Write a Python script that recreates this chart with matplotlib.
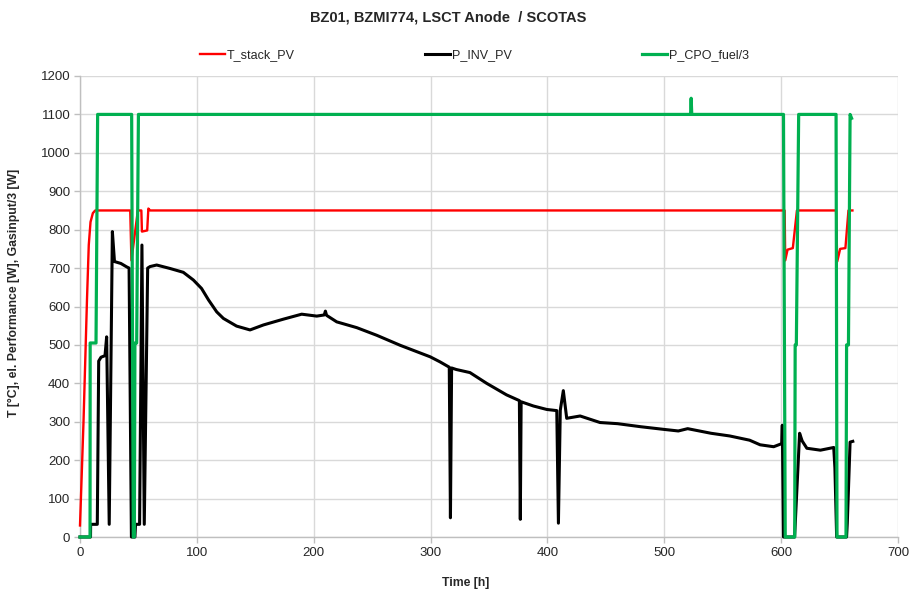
import matplotlib
matplotlib.use('Agg')
import matplotlib.pyplot as plt

# Excel-style palette
RED = '#FF0000'
BLACK = '#000000'
GREEN = '#00B050'
GRID = '#D9D9D9'
AXIS = '#BFBFBF'
TXT = '#262626'

plt.rcParams.update({
    'font.family': ['Liberation Sans', 'DejaVu Sans'],
    'text.color': TXT,
    'xtick.color': AXIS,
    'ytick.color': AXIS,
    'xtick.labelcolor': TXT,
    'ytick.labelcolor': TXT,
})

# T_stack_PV [degC]
stack_h = [0, 3, 6, 7.5, 9, 11, 13, 43, 44, 49.5, 52.5, 53, 57.5, 58.5, 60,
           603, 603.5, 605.5, 610, 613.5, 647, 648, 650.5, 655, 657.6, 661]
stack_v = [30, 300, 620, 760, 820, 843, 850, 850, 720, 850, 850, 795, 798, 855, 850,
           850, 720, 748, 752, 850, 850, 717, 750, 752, 850, 850]

# P_INV_PV [W]
inv_h = [0, 9, 9.1, 14.8, 16, 18, 21.4, 22.8, 25, 27.7, 29.5, 35, 40, 42, 44, 47,
         47.5, 51, 53, 55, 57.9, 60, 65.6, 77, 88.4, 97, 104, 110, 117, 122.7, 134,
         145.5, 157, 174, 189.7, 202.6, 209, 210, 211, 219.7, 236.8, 254, 274,
         299.7, 308, 316, 317, 318, 322, 333.7, 348, 365, 376, 376.8, 377.5, 388,
         399.4, 408, 409.4, 411, 413.6, 416.5, 428, 445, 460, 480, 500, 512, 520,
         540, 556, 573, 582, 593.6, 600.5, 601, 602, 611.5, 612, 615.8, 618, 622,
         633.6, 645, 646, 647.5, 656, 656.6, 659, 661.3]
inv_v = [0, 0, 33, 33, 458, 468, 472, 521, 33, 795, 717, 712, 703, 700, 0, 0,
         33, 33, 760, 33, 700, 704, 708, 699, 689, 669, 647, 617, 586, 569, 549,
         539, 552, 567, 580, 575, 578, 588, 577, 560, 545, 525, 499,
         469, 456, 442, 50, 440, 436, 428, 400, 370, 355, 46, 352, 341,
         332, 329, 36, 330, 381, 309, 315, 298, 295, 287, 280, 276, 282,
         270, 263, 252, 240, 235, 243, 291, 0, 0, 31, 270, 250, 231,
         226, 233, 180, 0, 0, 36, 247, 249]

# P_CPO_fuel/3 [W]
cpo_h = [0, 8.6, 8.7, 13.7, 15.1, 44.2, 45.6, 46.5, 47, 48.5, 50,
         522.5, 523, 523.5, 602, 603.5, 611.6, 612, 613, 615,
         647, 647.8, 655.5, 656, 657.6, 659, 660.3]
cpo_v = [0, 0, 505, 505, 1100, 1100, 0, 0, 505, 505, 1100,
         1100, 1142, 1100, 1100, 0, 0, 500, 500, 1100,
         1100, 0, 0, 500, 500, 1100, 1090]

labels = ['T_stack_PV', 'P_INV_PV', 'P_CPO_fuel/3']

fig = plt.figure(figsize=(9.12, 5.92), dpi=100)
ax = fig.add_axes([80 / 912, 1 - 537 / 592, 818 / 912, 461 / 592])

l1, = ax.plot(stack_h, stack_v, color=RED, lw=1.7, zorder=3, clip_on=False)
l2, = ax.plot(inv_h, inv_v, color=BLACK, lw=2.2, zorder=4, clip_on=False)
l3, = ax.plot(cpo_h, cpo_v, color=GREEN, lw=2.3, zorder=5, clip_on=False)

ax.set_xlim(0, 700)
ax.set_ylim(0, 1200)
ax.set_xticks(range(0, 701, 100))
ax.set_yticks(range(0, 1201, 100))
ax.grid(True, color=GRID, lw=1.0, zorder=0)
ax.set_axisbelow(True)
for s in ('top', 'right'):
    ax.spines[s].set_visible(False)
for s in ('left', 'bottom'):
    ax.spines[s].set_color(AXIS)
    ax.spines[s].set_linewidth(1.0)
ax.tick_params(labelsize=9.5, length=4, width=1.0, pad=3)

ax.set_xlabel('Time [h]', fontsize=8.8, fontweight='bold', color=TXT)
ax.set_ylabel('T [°C], el. Performance [W], Gasinput/3 [W]', fontsize=8.8,
              fontweight='bold', color=TXT)
ax.xaxis.set_label_coords(0.472, -0.087)
ax.yaxis.set_label_coords(-0.073, 0.529)

fig.text(448 / 912, 1 - 18 / 592, 'BZ01, BZMI774, LSCT Anode  / SCOTAS',
         fontsize=10.5, fontweight='bold', color=TXT, ha='center', va='center')

# Excel spreads the legend entries across the top, one at a time
for line, lab, x0 in zip([l1, l2, l3], labels, [200, 425, 642]):
    fig.legend(handles=[line], labels=[lab], loc='center left',
               bbox_to_anchor=(x0 / 912, 1 - 55 / 592), frameon=False,
               fontsize=9, handlelength=2.0, handletextpad=0.15,
               borderpad=0, borderaxespad=0)

fig.savefig('out.png', dpi=100)
